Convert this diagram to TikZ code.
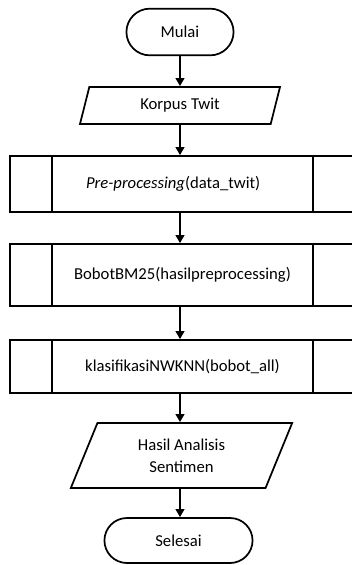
\documentclass[tikz,border=0pt]{standalone}
\usepackage{fontspec}
\setmainfont{Carlito}
\usetikzlibrary{shapes.misc,shapes.geometric,arrows.meta}
\tikzstyle{every node}=[draw=black,line width=1.3pt,align=center,font=\fontsize{12.5}{16.5}\selectfont]
\tikzstyle{terminal}=[rounded rectangle,minimum width=87pt,minimum height=35pt]
\tikzstyle{io}=[trapezium,trapezium stretches body,trapezium left angle=68,trapezium right angle=112,minimum width=150pt,minimum height=27.75pt]
\tikzstyle{proc}=[rectangle,minimum width=258.75pt]
\tikzstyle{flow}=[line width=1.3pt,-{Triangle[length=6pt,width=6.5pt]}]

\begin{document}
\begin{tikzpicture}[x=0.75pt,y=-0.75pt]
  \useasboundingbox (0,0) rectangle (351,565);
  \node[terminal] (T1) at (180,32) {Mulai};
  \node[io] (I1) at (180,105.5) {Korpus Twit};
  \node[proc,minimum height=42pt] (P1) at (182.5,184) {\textit{Pre-processing}(data\_twit)\hspace*{14pt}};
  \node[proc,minimum height=46.5pt] (P2) at (182.5,275) {BobotBM25(hasilpreprocessing)};
  \node[proc,minimum height=39.75pt] (P3) at (182.5,366.5) {klasifikasiNWKNN(bobot\_all)};
  \node[io,trapezium left angle=58,trapezium right angle=122,minimum width=166pt,minimum height=48.75pt] (I2) at (181.5,455.5) {Hasil Analisis\\Sentimen};
  \node[terminal,minimum width=117.75pt,minimum height=33.75pt] (T2) at (178.5,540.5) {Selesai};
  % side bars of the predefined process boxes
  \foreach \p in {P1,P2,P3} {
    \draw[line width=1.3pt] ([xshift=32.25pt]\p.north west) -- ([xshift=32.25pt]\p.south west);
    \draw[line width=1.3pt] ([xshift=-32.25pt]\p.north east) -- ([xshift=-32.25pt]\p.south east);
  }
  \draw[flow] (T1.south) -- (T1.south |- I1.north);
  \draw[flow] (I1.south -| T1.south) -- (T1.south |- P1.north);
  \draw[flow] (P1.south -| T1.south) -- (T1.south |- P2.north);
  \draw[flow] (P2.south -| T1.south) -- (T1.south |- P3.north);
  \draw[flow] (P3.south -| T1.south) -- (T1.south |- I2.north);
  \draw[flow] (I2.south -| T1.south) -- (T1.south |- T2.north);
\end{tikzpicture}
\end{document}
